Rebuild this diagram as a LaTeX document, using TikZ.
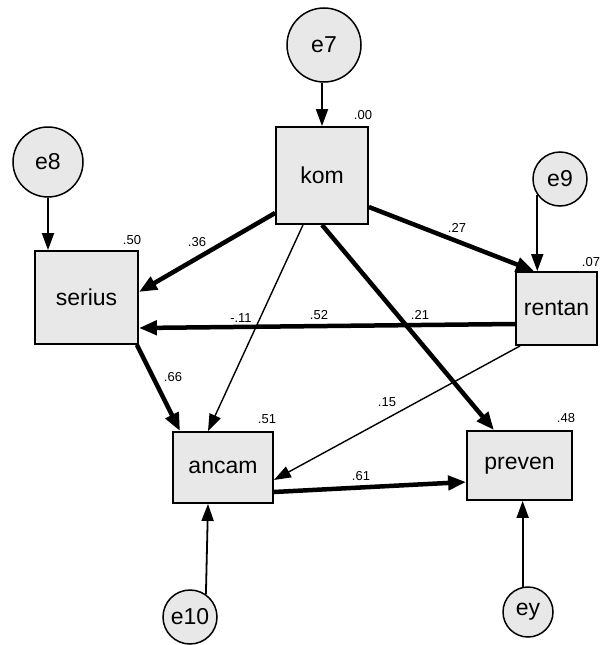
\documentclass[tikz,border=0pt]{standalone}
\usepackage{fontspec}
\setmainfont{Liberation Sans}
\usetikzlibrary{arrows.meta,calc}
\definecolor{boxgray}{HTML}{E8E8E8}
\begin{document}
\begin{tikzpicture}[x=1pt,y=-1pt,
  var/.style={draw, line width=1.8pt, fill=boxgray, inner sep=0pt, font=\fontsize{23}{27}\selectfont},
  err/.style={draw, circle, line width=1.5pt, fill=boxgray, inner sep=0pt, font=\fontsize{23}{27}\selectfont},
  num/.style={font=\fontsize{13}{15}\selectfont, inner sep=0pt},
  heavy/.style={line width=4.5pt, -{Triangle[length=18pt,width=14pt]}},
  light/.style={line width=1.4pt, -{Triangle[length=17pt,width=12pt]}},
  errarrow/.style={line width=1.8pt, -{Triangle[length=17pt,width=12pt]}}
]
\useasboundingbox (0,0) rectangle (608,645);
\fill[white] (0,0) rectangle (608,645);

% observed variables
\node[var, minimum width=92pt, minimum height=97pt] (kom) at (322,175.5) {kom};
\node[var, minimum width=103pt, minimum height=93pt] (serius) at (86.5,297.5) {serius};
\node[var, minimum width=81pt, minimum height=73pt] (rentan) at (556.5,308.5) {rentan};
\node[var, minimum width=100pt, minimum height=71pt] (ancam) at (223,467.5) {ancam};
\node[var, minimum width=105pt, minimum height=69pt] (preven) at (519.5,465.5) {preven};

% error terms
\node[err, minimum size=74pt] (e7) at (324,45) {e7};
\node[err, minimum size=70pt] (e8) at (48,162) {e8};
\node[err, minimum size=54pt] (e9) at (560,179) {e9};
\node[err, minimum size=54pt] (e10) at (190,617) {e10};
\node[err, minimum size=50pt] (ey) at (528,612) {ey};

% error arrows
\draw[errarrow] (e7.south -| kom.north) -- (kom.north);
\draw[errarrow] (e8.south) -- (e8.south |- serius.north);
\draw[errarrow] (e9.215) -- (e9.215 |- rentan.north);
\draw[errarrow] (e10.55) -- ($(ancam.south)+(-15,0)$);
\draw[errarrow] (ey.102) -- (ey.102 |- preven.south);

% structural paths
\draw[heavy] ($(kom.west)+(0,37.5)$) -- ($(serius.east)+(0,-5.5)$);
\draw[heavy] ($(kom.east)+(0,31.5)$) -- ($(rentan.north)+(-22.5,0)$);
\draw[light] ($(kom.south)+(-19,0)$) -- ($(ancam.north)+(-15,0)$);
\draw[heavy] (kom.south) -- ($(preven.north)+(-25.5,0)$);
\draw[heavy] ($(rentan.west)+(0,15.5)$) -- ($(serius.east)+(0,30.5)$);
\draw[light] ($(rentan.south west)+(5,0)$) -- ($(ancam.east)+(0,12.5)$);
\draw[heavy] ($(serius.south east)+(-2,0)$) -- ($(ancam.north)+(-43,0)$);
\draw[heavy] ($(ancam.east)+(0,24.5)$) -- ($(preven.west)+(0,16.5)$);

% R-squared values
\node[num] (rkom) at (363,115) {.00};
\node[num] (rserius) at (132,240) {.50};
\node[num] (rrentan) at (591,262) {.07};
\node[num] (rancam) at (267,419) {.51};
\node[num] (rpreven) at (566,418) {.48};

% path coefficients
\node[num] (c1) at (197,242) {.36};
\node[num] (c2) at (457,228) {.27};
\node[num] (c3) at (241,318) {-.11};
\node[num] (c4) at (319,315) {.52};
\node[num] (c5) at (420,315) {.21};
\node[num] (c6) at (173,377) {.66};
\node[num] (c7) at (387,402) {.15};
\node[num] (c8) at (361,476) {.61};
\end{tikzpicture}
\end{document}
